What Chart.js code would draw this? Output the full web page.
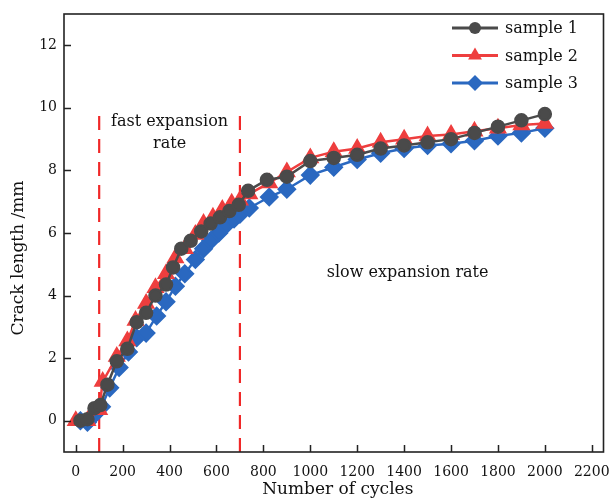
<!DOCTYPE html>
<html>
<head>
  <meta charset="UTF-8" />
  <title>Crack length vs cycles</title>
  <script src="https://cdn.jsdelivr.net/npm/chart.js"></script>
  <style>
    html, body { margin: 0; padding: 0; background: #fff; }
    #wrap { width: 614px; height: 501px; }
  </style>
</head>
<body>
  <div id="wrap"><canvas id="crackChart" width="614" height="501"></canvas></div>
  <script>
    // data
    const s1Cycles = [20, 50, 80, 105, 135, 175, 220, 260, 300, 340, 385, 415, 450, 490, 535, 575, 615, 655, 695, 735, 815, 900, 1000, 1100, 1200, 1300, 1400, 1500, 1600, 1700, 1800, 1900, 2000];
    const s1Length = [0, 0.05, 0.4, 0.5, 1.15, 1.9, 2.3, 3.15, 3.45, 4.0, 4.35, 4.9, 5.5, 5.75, 6.05, 6.3, 6.5, 6.7, 6.9, 7.35, 7.7, 7.8, 8.3, 8.4, 8.5, 8.7, 8.8, 8.9, 9.0, 9.2, 9.4, 9.6, 9.8];
    const s2Cycles = [0, 50, 100, 115, 175, 220, 255, 300, 340, 385, 425, 465, 510, 545, 585, 625, 665, 700, 740, 825, 900, 1000, 1100, 1200, 1300, 1400, 1500, 1600, 1700, 1800, 1900, 2000];
    const s2Length = [0, 0, 0.35, 1.25, 2.05, 2.55, 3.2, 3.75, 4.25, 4.7, 5.2, 5.5, 5.95, 6.3, 6.5, 6.75, 6.95, 7.05, 7.25, 7.6, 7.95, 8.4, 8.6, 8.7, 8.9, 9.0, 9.1, 9.15, 9.25, 9.35, 9.45, 9.5];
    const s3Cycles = [20, 50, 80, 110, 145, 185, 225, 260, 300, 345, 385, 425, 465, 510, 545, 575, 610, 640, 675, 700, 740, 825, 900, 1000, 1100, 1200, 1300, 1400, 1500, 1600, 1700, 1800, 1900, 2000];
    const s3Length = [0, -0.05, 0.2, 0.45, 1.05, 1.7, 2.2, 2.65, 2.8, 3.35, 3.8, 4.3, 4.7, 5.15, 5.5, 5.75, 6.0, 6.25, 6.45, 6.6, 6.8, 7.15, 7.4, 7.85, 8.1, 8.35, 8.55, 8.7, 8.8, 8.85, 8.95, 9.1, 9.2, 9.35];
    const seriesNames = ["sample 1", "sample 2", "sample 3"];
    const xTicks = [0, 200, 400, 600, 800, 1000, 1200, 1400, 1600, 1800, 2000, 2200];
    const yTicks = [0, 2, 4, 6, 8, 10, 12];
    const stageBounds = [100, 700];

    const serif = "'DejaVu Serif', 'Liberation Serif', serif";
    const ink = "#111";
    const colors = ["#4a4a4a", "#ee3e3e", "#2a68c0"];
    const dashRed = "#f02828";

    const pts = (xs, ys) => xs.map((x, i) => ({ x: x, y: ys[i] }));

    const datasets = [
      {
        label: seriesNames[0], data: pts(s1Cycles, s1Length),
        borderColor: colors[0], backgroundColor: colors[0],
        borderWidth: 2.5, pointStyle: "circle", pointRadius: 6
      },
      {
        label: seriesNames[1], data: pts(s2Cycles, s2Length),
        borderColor: colors[1], backgroundColor: colors[1],
        borderWidth: 2.5, pointStyle: "triangle", pointRadius: 8
      },
      {
        label: seriesNames[2], data: pts(s3Cycles, s3Length),
        borderColor: colors[2], backgroundColor: colors[2],
        borderWidth: 2.5, pointStyle: "rectRot", pointRadius: 8
      }
    ];
    // dashed boundaries between stages
    stageBounds.forEach(b => {
      datasets.push({
        label: "", data: [{ x: b, y: -1 }, { x: b, y: 10 }],
        borderColor: dashRed, borderWidth: 2.2, borderDash: [14, 9],
        pointRadius: 0, isBound: true
      });
    });

    const extras = {
      id: "extras",
      afterDraw(chart) {
        const ctx = chart.ctx;
        const a = chart.chartArea;
        const xs = chart.scales.x, ys = chart.scales.y;
        ctx.save();
        // frame
        ctx.strokeStyle = "#222";
        ctx.lineWidth = 1.6;
        ctx.strokeRect(a.left, a.top, a.right - a.left, a.bottom - a.top);
        // inward ticks
        ctx.lineWidth = 1.5;
        ctx.beginPath();
        xTicks.forEach(v => {
          const px = Math.round(xs.getPixelForValue(v)) + 0.5;
          ctx.moveTo(px, a.bottom);
          ctx.lineTo(px, a.bottom - 7);
        });
        yTicks.forEach(v => {
          const py = Math.round(ys.getPixelForValue(v)) + 0.5;
          ctx.moveTo(a.left, py);
          ctx.lineTo(a.left + 7, py);
        });
        ctx.stroke();

        // region labels
        ctx.fillStyle = ink;
        ctx.font = "16px " + serif;
        ctx.textAlign = "center";
        ctx.textBaseline = "middle";
        ctx.fillText("fast expansion", xs.getPixelForValue(400), ys.getPixelForValue(9.55));
        ctx.fillText("rate", xs.getPixelForValue(400), ys.getPixelForValue(8.85));
        ctx.fillText("slow expansion rate", xs.getPixelForValue(1415), ys.getPixelForValue(4.74));

        // axis titles
        ctx.font = "17px " + serif;
        ctx.fillText("Number of cycles", (a.left + a.right) / 2 + 4, 490);
        ctx.save();
        ctx.translate(19, 258);
        ctx.rotate(-Math.PI / 2);
        ctx.fillText("Crack length /mm", 0, 0);
        ctx.restore();

        // legend: line + marker + name
        ctx.font = "16px " + serif;
        ctx.textAlign = "left";
        chart.data.datasets.filter(d => !d.isBound).forEach((d, i) => {
          const yy = 28 + i * 27.5;
          ctx.strokeStyle = d.borderColor;
          ctx.lineWidth = 3;
          ctx.beginPath();
          ctx.moveTo(452, yy);
          ctx.lineTo(498, yy);
          ctx.stroke();
          ctx.fillStyle = d.backgroundColor;
          Chart.helpers.drawPoint(ctx, {
            pointStyle: d.pointStyle, radius: d.pointRadius, rotation: 0,
            borderWidth: 0
          }, 475, yy);
          ctx.fillStyle = ink;
          ctx.fillText(d.label, 505, yy + 1);
        });
        ctx.restore();
      }
    };

    new Chart(document.getElementById("crackChart"), {
      type: "line",
      data: { datasets: datasets },
      options: {
        responsive: false,
        animation: false,
        layout: { padding: { top: 14, right: 9, left: 0, bottom: 0 } },
        plugins: { legend: { display: false }, tooltip: { enabled: false } },
        elements: { line: { tension: 0 } },
        scales: {
          x: {
            type: "linear", min: -50, max: 2250,
            afterBuildTicks: s => { s.ticks = xTicks.map(v => ({ value: v })); },
            afterFit: s => { s.height = 49; s.paddingLeft = 0; s.paddingRight = 0; },
            grid: { display: false, drawTicks: false },
            border: { display: false },
            ticks: {
              color: ink, font: { family: serif, size: 14 }, padding: 12, maxRotation: 0,
              callback: v => String(v)
            }
          },
          y: {
            type: "linear", min: -1, max: 13,
            afterBuildTicks: s => { s.ticks = yTicks.map(v => ({ value: v })); },
            afterFit: s => { s.width = 64; s.paddingTop = 0; s.paddingBottom = 0; },
            grid: { display: false, drawTicks: false },
            border: { display: false },
            ticks: { color: ink, font: { family: serif, size: 14 }, padding: 7 }
          }
        }
      },
      plugins: [extras]
    });
  </script>
</body>
</html>
